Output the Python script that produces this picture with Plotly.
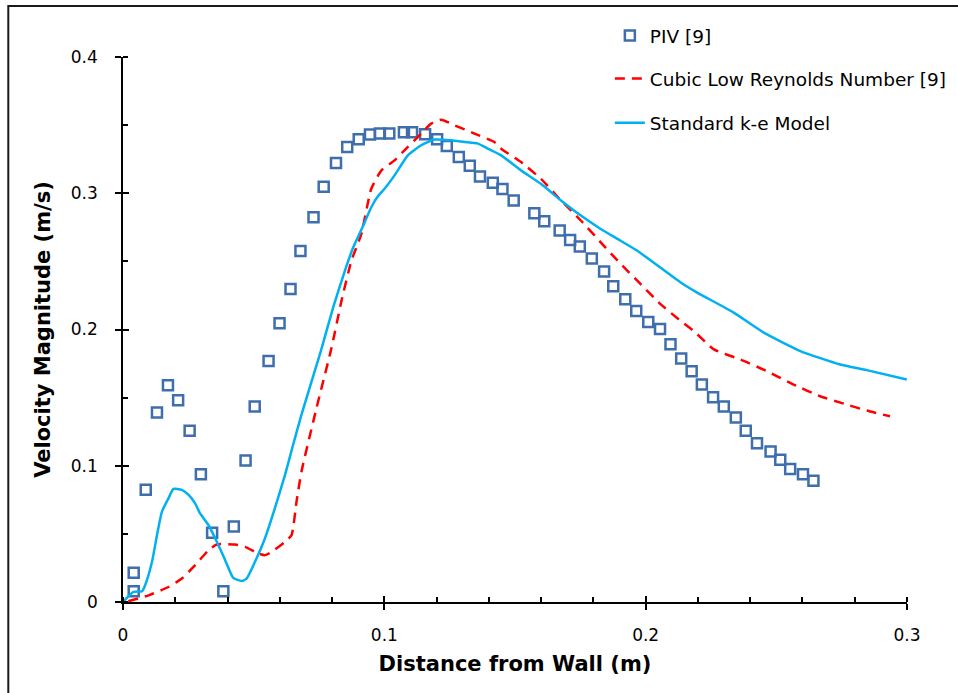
import plotly.graph_objects as go

# PIV measurements [9]
piv_x = [0.0041, 0.0041, 0.0087, 0.0130, 0.0172, 0.0211, 0.0255, 0.0298, 0.0341, 0.0384,
         0.0424, 0.0469, 0.0504, 0.0557, 0.0599, 0.0641, 0.0679, 0.0729, 0.0768, 0.0815,
         0.0858, 0.0902, 0.0945, 0.0983, 0.1019, 0.1075, 0.1106, 0.1156, 0.1202, 0.1239,
         0.1285, 0.1327, 0.1366, 0.1415, 0.1452, 0.1495, 0.1574, 0.1612, 0.1671, 0.1711,
         0.1748, 0.1794, 0.1841, 0.1876, 0.1922, 0.1964, 0.2010, 0.2055, 0.2095, 0.2136,
         0.2176, 0.2215, 0.2258, 0.2299, 0.2345, 0.2383, 0.2426, 0.2478, 0.2515, 0.2553,
         0.2602, 0.2642]
piv_y = [0.0214, 0.0079, 0.0823, 0.1390, 0.1590, 0.1480, 0.1257, 0.0938, 0.0508, 0.0079,
         0.0555, 0.1039, 0.1434, 0.1768, 0.2045, 0.2298, 0.2576, 0.2824, 0.3047, 0.3222,
         0.3340, 0.3396, 0.3431, 0.3438, 0.3438, 0.3447, 0.3447, 0.3433, 0.3396, 0.3347,
         0.3266, 0.3201, 0.3123, 0.3077, 0.3031, 0.2947, 0.2853, 0.2794, 0.2726, 0.2657,
         0.2610, 0.2522, 0.2426, 0.2318, 0.2222, 0.2136, 0.2055, 0.2004, 0.1891, 0.1788,
         0.1694, 0.1596, 0.1503, 0.1434, 0.1355, 0.1257, 0.1166, 0.1105, 0.1044, 0.0977,
         0.0938, 0.0889]

# Cubic Low Reynolds Number model [9]
clr_x = [0.0020, 0.0098, 0.0174, 0.0225, 0.0276, 0.0327, 0.0359, 0.0429, 0.0467, 0.0518,
         0.0543, 0.0569, 0.0620, 0.0645, 0.0664, 0.0683, 0.0740, 0.0798, 0.0836, 0.0874,
         0.0912, 0.0950, 0.0989, 0.1039, 0.1090, 0.1141, 0.1179, 0.1218, 0.1268, 0.1345,
         0.1421, 0.1447, 0.1523, 0.1599, 0.1676, 0.1752, 0.1828, 0.1905, 0.1981, 0.2057,
         0.2134, 0.2184, 0.2261, 0.2363, 0.2464, 0.2566, 0.2668, 0.2770, 0.2846, 0.2935]
clr_y = [0.0005, 0.0049, 0.0110, 0.0172, 0.0270, 0.0380, 0.0422, 0.0422, 0.0405, 0.0356,
         0.0344, 0.0368, 0.0442, 0.0491, 0.0737, 0.0958, 0.1420, 0.1866, 0.2210, 0.2505,
         0.2701, 0.3033, 0.3168, 0.3241, 0.3340, 0.3438, 0.3511, 0.3540, 0.3499, 0.3438,
         0.3376, 0.3327, 0.3229, 0.3106, 0.2947, 0.2800, 0.2640, 0.2480, 0.2333, 0.2186,
         0.2063, 0.1989, 0.1854, 0.1780, 0.1694, 0.1596, 0.1510, 0.1449, 0.1405, 0.1363]

# Standard k-e model
ske_x = [0.0000, 0.0040, 0.0073, 0.0085, 0.0111, 0.0130, 0.0149, 0.0174, 0.0193, 0.0225,
         0.0251, 0.0276, 0.0295, 0.0327, 0.0359, 0.0391, 0.0422, 0.0454, 0.0473, 0.0505,
         0.0543, 0.0581, 0.0620, 0.0651, 0.0683, 0.0757, 0.0804, 0.0849, 0.0881, 0.0919,
         0.0950, 0.0976, 0.1001, 0.1039, 0.1090, 0.1141, 0.1192, 0.1256, 0.1307, 0.1358,
         0.1396, 0.1447, 0.1523, 0.1599, 0.1676, 0.1752, 0.1828, 0.1892, 0.1968, 0.2134,
         0.2197, 0.2337, 0.2452, 0.2592, 0.2744, 0.2846, 0.2999]
ske_y = [0.0000, 0.0074, 0.0079, 0.0125, 0.0295, 0.0490, 0.0663, 0.0761, 0.0830, 0.0823,
         0.0786, 0.0724, 0.0650, 0.0565, 0.0442, 0.0307, 0.0177, 0.0155, 0.0172, 0.0295,
         0.0466, 0.0687, 0.0933, 0.1154, 0.1375, 0.1842, 0.2161, 0.2431, 0.2603, 0.2762,
         0.2897, 0.2979, 0.3033, 0.3131, 0.3278, 0.3352, 0.3394, 0.3389, 0.3376, 0.3364,
         0.3327, 0.3278, 0.3168, 0.3069, 0.2947, 0.2836, 0.2738, 0.2665, 0.2578, 0.2345,
         0.2271, 0.2124, 0.1977, 0.1842, 0.1743, 0.1702, 0.1633]

x_ticks = [0, 0.1, 0.2, 0.3]
x_tick_labels = ["0", "0.1", "0.2", "0.3"]
y_ticks = [0, 0.1, 0.2, 0.3, 0.4]
y_tick_labels = ["0", "0.1", "0.2", "0.3", "0.4"]

X_RANGE = [0, 0.3]
Y_RANGE = [0, 0.4]

fig = go.Figure()

fig.add_trace(go.Scatter(
    x=piv_x, y=piv_y, mode="markers", name="PIV [9]", showlegend=True,
    marker=dict(symbol="square-open", size=10, color="#3F6EAC", line=dict(width=2.5, color="#3F6EAC")),
    legend="legend",
))
fig.add_trace(go.Scatter(
    x=clr_x, y=clr_y, mode="lines", name="Cubic Low Reynolds Number [9]", showlegend=True,
    line=dict(color="#FF0000", width=2.5, dash="10px,7px", shape="spline", smoothing=0.5),
    legend="legend2",
))
fig.add_trace(go.Scatter(
    x=ske_x, y=ske_y, mode="lines", name="Standard k-e Model", showlegend=True,
    line=dict(color="#00B0F0", width=2.5, shape="spline", smoothing=0.5),
    legend="legend3",
))
# keep the overlay axes (inner halves of the cross ticks) alive
fig.add_trace(go.Scatter(x=[], y=[], xaxis="x2", yaxis="y2", showlegend=False, hoverinfo="skip"))

tick_font = dict(family="DejaVu Sans", size=17, color="#000000")
title_font = dict(family="DejaVu Sans", size=21, color="#000000")
legend_font = dict(family="DejaVu Sans", size=18.5, color="#000000")

axis_common = dict(showgrid=False, zeroline=False, showline=True, linecolor="#000000", linewidth=1.5,
                   ticks="outside", ticklen=6, tickwidth=1.5, tickcolor="#000000", tickfont=tick_font)

legend_common = dict(x=0.621, xanchor="left", yanchor="middle", font=legend_font,
                     bgcolor="rgba(0,0,0,0)", itemwidth=30)

fig.update_layout(
    width=958, height=693,
    showlegend=True,
    margin=dict(l=123, r=51, t=57, b=91, autoexpand=False),
    paper_bgcolor="#FFFFFF", plot_bgcolor="#FFFFFF",
    xaxis=dict(range=X_RANGE, tickvals=x_ticks, ticktext=x_tick_labels, ticklabelstandoff=11,
               title=dict(text="<b>Distance from Wall (m)</b>", font=title_font, standoff=12),
               minor=dict(dtick=0.02, tick0=0, ticks="inside", ticklen=5, tickwidth=1.5, tickcolor="#000000"),
               **axis_common),
    yaxis=dict(range=Y_RANGE, tickvals=y_ticks, ticktext=y_tick_labels, ticklabelstandoff=14,
               title=dict(text="<b>Velocity Magnitude (m/s)</b>", font=title_font, standoff=14),
               minor=dict(dtick=0.05, tick0=0, ticks="inside", ticklen=5, tickwidth=1.5, tickcolor="#000000"),
               **axis_common),
    xaxis2=dict(overlaying="x", range=X_RANGE, tickvals=x_ticks, showticklabels=False, showgrid=False,
                zeroline=False, showline=False, ticks="inside", ticklen=6, tickwidth=1.5,
                tickcolor="#000000", side="bottom", anchor="y2"),
    yaxis2=dict(overlaying="y", range=Y_RANGE, tickvals=y_ticks, showticklabels=False, showgrid=False,
                zeroline=False, showline=False, ticks="inside", ticklen=6, tickwidth=1.5,
                tickcolor="#000000", side="left", anchor="x2"),
    legend=dict(y=1.0387, **legend_common),
    legend2=dict(y=0.9595, **legend_common),
    legend3=dict(y=0.8785, **legend_common),
    shapes=[dict(type="rect", xref="paper", yref="paper", x0=-0.1463, x1=1.10, y0=-0.20, y1=1.0936,
                 line=dict(color="#1A1A1A", width=2), fillcolor="rgba(0,0,0,0)", layer="below")],
)

fig.write_html("out.html")
